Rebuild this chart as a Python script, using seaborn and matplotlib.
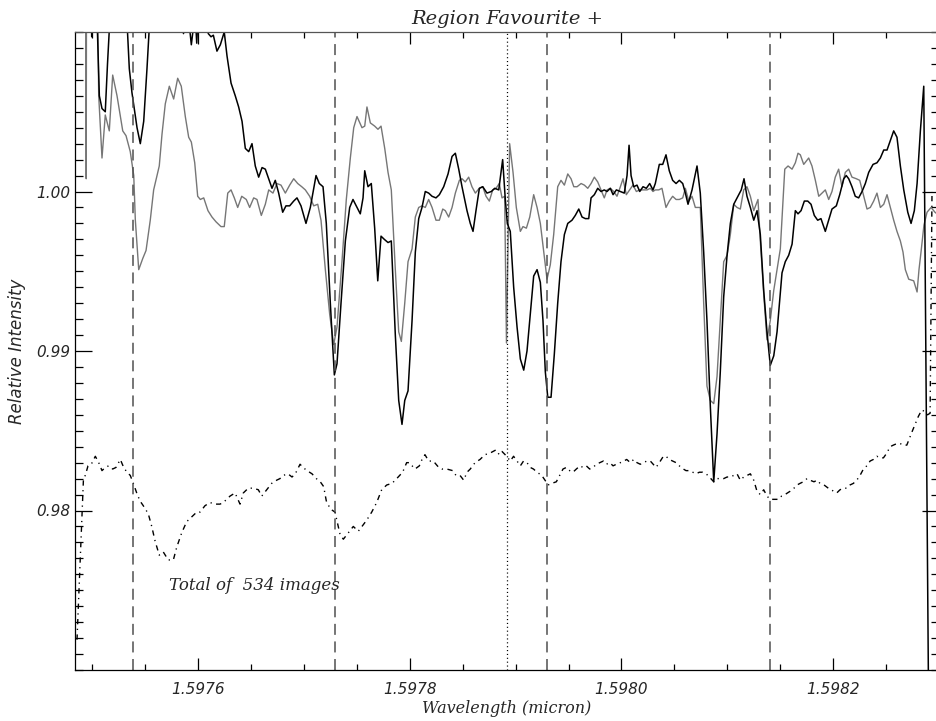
import matplotlib
matplotlib.use("Agg")
import matplotlib.pyplot as plt
from matplotlib.ticker import MultipleLocator, FixedLocator, FixedFormatter
import seaborn as sns

# ---------------- data ----------------
black_wave = [
    1.5974961, 1.5974996, 1.5975017, 1.5975041, 1.5975068, 1.5975093, 1.5975124, 1.5975145,
    1.5975169, 1.5975197, 1.5975310, 1.5975334, 1.5975351, 1.5975376, 1.5975424, 1.5975455,
    1.5975487, 1.5975518, 1.5975540, 1.5975565, 1.5975811, 1.5975839, 1.5975863, 1.5975887,
    1.5975915, 1.5975937, 1.5975953, 1.5975976, 1.5975988, 1.5976000, 1.5976066, 1.5976097,
    1.5976123, 1.5976145, 1.5976179, 1.5976211, 1.5976248, 1.5976274, 1.5976312, 1.5976352,
    1.5976384, 1.5976416, 1.5976447, 1.5976479, 1.5976510, 1.5976541, 1.5976573, 1.5976605,
    1.5976636, 1.5976668, 1.5976699, 1.5976730, 1.5976762, 1.5976800, 1.5976831, 1.5976866,
    1.5976904, 1.5976935, 1.5976973, 1.5977020, 1.5977061, 1.5977115, 1.5977146, 1.5977181,
    1.5977212, 1.5977250, 1.5977288, 1.5977313, 1.5977351, 1.5977392, 1.5977433, 1.5977464,
    1.5977502, 1.5977533, 1.5977559, 1.5977575, 1.5977606, 1.5977637, 1.5977669, 1.5977698,
    1.5977729, 1.5977760, 1.5977795, 1.5977826, 1.5977864, 1.5977896, 1.5977927, 1.5977953,
    1.5977984, 1.5978022, 1.5978053, 1.5978085, 1.5978116, 1.5978147, 1.5978179, 1.5978211,
    1.5978248, 1.5978280, 1.5978321, 1.5978362, 1.5978400, 1.5978431, 1.5978463, 1.5978494,
    1.5978541, 1.5978572, 1.5978598, 1.5978626, 1.5978658, 1.5978690, 1.5978730, 1.5978771,
    1.5978803, 1.5978841, 1.5978878, 1.5978903, 1.5978922, 1.5978950, 1.5978982, 1.5979014,
    1.5979045, 1.5979077, 1.5979108, 1.5979139, 1.5979171, 1.5979203, 1.5979234, 1.5979259,
    1.5979281, 1.5979304, 1.5979335, 1.5979366, 1.5979398, 1.5979429, 1.5979461, 1.5979493,
    1.5979533, 1.5979564, 1.5979597, 1.5979628, 1.5979659, 1.5979691, 1.5979713, 1.5979744,
    1.5979776, 1.5979807, 1.5979838, 1.5979864, 1.5979895, 1.5979921, 1.5979952, 1.5979990,
    1.5980027, 1.5980053, 1.5980072, 1.5980091, 1.5980116, 1.5980147, 1.5980173, 1.5980204,
    1.5980235, 1.5980267, 1.5980298, 1.5980320, 1.5980358, 1.5980390, 1.5980421, 1.5980452,
    1.5980484, 1.5980516, 1.5980547, 1.5980579, 1.5980604, 1.5980629, 1.5980667, 1.5980714,
    1.5980745, 1.5980777, 1.5980808, 1.5980840, 1.5980872, 1.5980903, 1.5980934, 1.5980966,
    1.5980998, 1.5981029, 1.5981061, 1.5981101, 1.5981132, 1.5981158, 1.5981186, 1.5981218,
    1.5981250, 1.5981281, 1.5981312, 1.5981344, 1.5981375, 1.5981406, 1.5981439, 1.5981470,
    1.5981501, 1.5981517, 1.5981548, 1.5981580, 1.5981612, 1.5981643, 1.5981668, 1.5981697,
    1.5981728, 1.5981760, 1.5981791, 1.5981822, 1.5981854, 1.5981885, 1.5981926, 1.5981958,
    1.5981989, 1.5982030, 1.5982062, 1.5982100, 1.5982124, 1.5982147, 1.5982178, 1.5982209,
    1.5982241, 1.5982273, 1.5982304, 1.5982336, 1.5982377, 1.5982414, 1.5982446, 1.5982478,
    1.5982509, 1.5982540, 1.5982572, 1.5982603, 1.5982635, 1.5982667, 1.5982705, 1.5982736,
    1.5982767, 1.5982793, 1.5982824, 1.5982856, 1.5982911,
]
black_flux = [
    1.0200, 1.0097, 1.0200, 1.0120, 1.0060, 1.0052, 1.0050, 1.0080,
    1.0110, 1.0140, 1.0140, 1.0100, 1.0077, 1.0062, 1.0040, 1.0030,
    1.0044, 1.0077, 1.0103, 1.0140, 1.0140, 1.0110, 1.0099, 1.0112,
    1.0106, 1.0092, 1.0101, 1.0108, 1.0093, 1.0110, 1.0110, 1.0099,
    1.0097, 1.0098, 1.0088, 1.0092, 1.0100, 1.0085, 1.0068, 1.0060,
    1.0053, 1.0044, 1.0027, 1.0025, 1.0030, 1.0016, 1.0009, 1.0015,
    1.0014, 1.0008, 1.0002, 1.0007, 0.9999, 0.9987, 0.9991, 0.9991,
    0.9994, 0.9996, 0.9991, 0.9980, 0.9990, 1.0010, 1.0005, 1.0003,
    0.9980, 0.9930, 0.9885, 0.9892, 0.9930, 0.9969, 0.9990, 0.9995,
    0.9990, 0.9986, 0.9996, 1.0013, 1.0003, 1.0005, 0.9977, 0.9944,
    0.9972, 0.9970, 0.9968, 0.9969, 0.9910, 0.9869, 0.9854, 0.9869,
    0.9875, 0.9919, 0.9962, 0.9983, 0.9990, 1.0000, 0.9999, 0.9997,
    0.9996, 0.9998, 1.0003, 1.0011, 1.0022, 1.0024, 1.0014, 1.0003,
    0.9988, 0.9980, 0.9975, 0.9988, 1.0002, 1.0003, 0.9999, 1.0000,
    1.0002, 1.0001, 1.0020, 0.9995, 0.9980, 0.9975, 0.9940, 0.9915,
    0.9895, 0.9888, 0.9900, 0.9923, 0.9947, 0.9951, 0.9943, 0.9919,
    0.9887, 0.9871, 0.9871, 0.9898, 0.9930, 0.9956, 0.9973, 0.9980,
    0.9982, 0.9985, 0.9989, 0.9984, 0.9983, 0.9983, 0.9996, 0.9998,
    1.0002, 1.0000, 1.0001, 1.0000, 1.0002, 0.9998, 1.0001, 1.0000,
    0.9999, 1.0010, 1.0029, 1.0010, 1.0003, 1.0004, 1.0000, 1.0003,
    1.0002, 1.0005, 1.0001, 1.0005, 1.0017, 1.0017, 1.0023, 1.0013,
    1.0007, 1.0005, 1.0007, 1.0005, 0.9999, 0.9992, 1.0001, 1.0016,
    0.9999, 0.9962, 0.9919, 0.9865, 0.9818, 0.9848, 0.9887, 0.9934,
    0.9960, 0.9980, 0.9992, 0.9997, 1.0001, 1.0008, 0.9997, 0.9990,
    0.9982, 0.9988, 0.9973, 0.9938, 0.9912, 0.9891, 0.9897, 0.9912,
    0.9936, 0.9949, 0.9956, 0.9960, 0.9967, 0.9988, 0.9986, 0.9988,
    0.9994, 0.9994, 0.9992, 0.9985, 0.9982, 0.9983, 0.9975, 0.9982,
    0.9989, 0.9991, 0.9998, 1.0008, 1.0010, 1.0008, 1.0003, 0.9997,
    0.9996, 1.0000, 1.0005, 1.0012, 1.0017, 1.0018, 1.0021, 1.0026,
    1.0026, 1.0032, 1.0038, 1.0034, 1.0016, 1.0001, 0.9987, 0.9980,
    0.9988, 1.0005, 1.0038, 1.0066, 0.9600,
]

gray_wave = [
    1.5974937, 1.5974944, 1.5974950, 1.5975036, 1.5975062, 1.5975093, 1.5975124, 1.5975162,
    1.5975194, 1.5975235, 1.5975289, 1.5975320, 1.5975360, 1.5975393, 1.5975408, 1.5975440,
    1.5975478, 1.5975509, 1.5975549, 1.5975581, 1.5975634, 1.5975660, 1.5975691, 1.5975729,
    1.5975770, 1.5975808, 1.5975842, 1.5975880, 1.5975912, 1.5975937, 1.5975969, 1.5975997,
    1.5976022, 1.5976054, 1.5976094, 1.5976132, 1.5976170, 1.5976217, 1.5976248, 1.5976281,
    1.5976312, 1.5976343, 1.5976375, 1.5976413, 1.5976456, 1.5976488, 1.5976526, 1.5976557,
    1.5976598, 1.5976636, 1.5976668, 1.5976708, 1.5976746, 1.5976784, 1.5976825, 1.5976866,
    1.5976904, 1.5976942, 1.5976980, 1.5977014, 1.5977055, 1.5977093, 1.5977131, 1.5977162,
    1.5977203, 1.5977244, 1.5977282, 1.5977313, 1.5977360, 1.5977401, 1.5977439, 1.5977471,
    1.5977502, 1.5977549, 1.5977575, 1.5977596, 1.5977628, 1.5977669, 1.5977700, 1.5977729,
    1.5977764, 1.5977795, 1.5977826, 1.5977864, 1.5977896, 1.5977921, 1.5977953, 1.5977984,
    1.5978022, 1.5978053, 1.5978085, 1.5978116, 1.5978147, 1.5978179, 1.5978211, 1.5978248,
    1.5978280, 1.5978312, 1.5978336, 1.5978368, 1.5978400, 1.5978431, 1.5978469, 1.5978494,
    1.5978525, 1.5978557, 1.5978588, 1.5978620, 1.5978657, 1.5978690, 1.5978721, 1.5978752,
    1.5978784, 1.5978815, 1.5978846, 1.5978872, 1.5978897, 1.5978914, 1.5978944, 1.5978976,
    1.5979007, 1.5979045, 1.5979070, 1.5979102, 1.5979134, 1.5979171, 1.5979203, 1.5979234,
    1.5979266, 1.5979297, 1.5979328, 1.5979360, 1.5979398, 1.5979429, 1.5979461, 1.5979493,
    1.5979524, 1.5979550, 1.5979581, 1.5979619, 1.5979650, 1.5979682, 1.5979713, 1.5979744,
    1.5979776, 1.5979807, 1.5979838, 1.5979864, 1.5979895, 1.5979927, 1.5979958, 1.5979990,
    1.5980015, 1.5980046, 1.5980078, 1.5980109, 1.5980141, 1.5980173, 1.5980210, 1.5980242,
    1.5980273, 1.5980298, 1.5980320, 1.5980352, 1.5980383, 1.5980421, 1.5980452, 1.5980484,
    1.5980516, 1.5980547, 1.5980579, 1.5980604, 1.5980636, 1.5980667, 1.5980698, 1.5980745,
    1.5980777, 1.5980808, 1.5980840, 1.5980872, 1.5980903, 1.5980934, 1.5980966, 1.5980998,
    1.5981029, 1.5981061, 1.5981092, 1.5981123, 1.5981155, 1.5981186, 1.5981218, 1.5981250,
    1.5981290, 1.5981312, 1.5981344, 1.5981375, 1.5981406, 1.5981439, 1.5981470, 1.5981501,
    1.5981543, 1.5981574, 1.5981612, 1.5981643, 1.5981668, 1.5981690, 1.5981722, 1.5981769,
    1.5981800, 1.5981832, 1.5981864, 1.5981895, 1.5981926, 1.5981958, 1.5981989, 1.5982020,
    1.5982052, 1.5982083, 1.5982115, 1.5982147, 1.5982178, 1.5982219, 1.5982251, 1.5982282,
    1.5982320, 1.5982351, 1.5982383, 1.5982414, 1.5982446, 1.5982478, 1.5982509, 1.5982540,
    1.5982572, 1.5982603, 1.5982635, 1.5982660, 1.5982682, 1.5982714, 1.5982761, 1.5982793,
    1.5982811, 1.5982830, 1.5982858, 1.5982887, 1.5982925, 1.5982962, 1.5983000,
]
gray_flux = [
    1.0300, 1.0008, 1.0300, 1.0200, 1.0060, 1.0021, 1.0048, 1.0038,
    1.0073, 1.0060, 1.0038, 1.0035, 1.0025, 1.0010, 0.9982, 0.9951,
    0.9958, 0.9963, 0.9982, 1.0001, 1.0016, 1.0036, 1.0055, 1.0066,
    1.0058, 1.0071, 1.0066, 1.0047, 1.0034, 1.0031, 1.0018, 0.9997,
    0.9995, 0.9996, 0.9988, 0.9984, 0.9981, 0.9978, 0.9978, 0.9999,
    1.0001, 0.9996, 0.9990, 0.9997, 0.9995, 0.9990, 0.9996, 0.9995,
    0.9985, 0.9992, 1.0001, 0.9999, 1.0005, 1.0004, 0.9999, 1.0004,
    1.0008, 1.0005, 1.0003, 1.0001, 0.9997, 0.9991, 0.9992, 0.9982,
    0.9951, 0.9923, 0.9904, 0.9915, 0.9956, 0.9995, 1.0021, 1.0040,
    1.0047, 1.0040, 1.0041, 1.0053, 1.0043, 1.0041, 1.0039, 1.0041,
    1.0027, 1.0012, 1.0001, 0.9951, 0.9912, 0.9906, 0.9930, 0.9956,
    0.9964, 0.9984, 0.9990, 0.9991, 0.9990, 0.9995, 0.9990, 0.9982,
    0.9982, 0.9989, 0.9988, 0.9984, 0.9990, 0.9999, 1.0007, 1.0008,
    1.0006, 1.0009, 1.0003, 0.9999, 1.0002, 1.0003, 0.9997, 0.9994,
    1.0001, 1.0002, 1.0005, 0.9996, 0.9997, 0.9905, 1.0030, 1.0012,
    0.9990, 0.9975, 0.9978, 0.9977, 0.9984, 0.9998, 0.9990, 0.9980,
    0.9962, 0.9945, 0.9954, 0.9973, 1.0003, 1.0007, 1.0004, 1.0011,
    1.0008, 1.0003, 1.0003, 1.0005, 1.0004, 1.0002, 1.0005, 1.0009,
    1.0006, 1.0001, 0.9996, 1.0001, 1.0002, 1.0000, 0.9997, 1.0003,
    1.0008, 0.9998, 1.0001, 1.0004, 1.0000, 1.0001, 1.0001, 1.0001,
    1.0002, 1.0000, 1.0001, 1.0001, 1.0002, 0.9990, 0.9994, 0.9997,
    0.9995, 0.9995, 0.9996, 1.0002, 0.9994, 0.9997, 0.9990, 0.9990,
    0.9930, 0.9878, 0.9869, 0.9867, 0.9884, 0.9919, 0.9956, 0.9960,
    0.9973, 0.9992, 0.9990, 0.9989, 1.0001, 1.0003, 0.9997, 0.9988,
    0.9995, 0.9969, 0.9936, 0.9907, 0.9919, 0.9938, 0.9951, 0.9964,
    1.0014, 1.0016, 1.0014, 1.0018, 1.0024, 1.0023, 1.0017, 1.0021,
    1.0016, 1.0007, 0.9997, 0.9999, 1.0001, 0.9995, 1.0000, 1.0009,
    1.0014, 1.0003, 1.0012, 1.0014, 1.0009, 1.0008, 1.0007, 0.9999,
    0.9989, 0.9990, 0.9994, 0.9999, 0.9990, 0.9992, 0.9998, 0.9990,
    0.9982, 0.9975, 0.9969, 0.9962, 0.9951, 0.9945, 0.9944, 0.9937,
    0.9951, 0.9962, 0.9979, 0.9987, 0.9990, 0.9987, 0.9985,
]

total_wave = [
    1.5974857, 1.5974918, 1.5974935, 1.5974961, 1.5974992, 1.5975030, 1.5975062, 1.5975093,
    1.5975124, 1.5975156, 1.5975194, 1.5975225, 1.5975266, 1.5975298, 1.5975329, 1.5975360,
    1.5975389, 1.5975421, 1.5975452, 1.5975483, 1.5975530, 1.5975563, 1.5975594, 1.5975634,
    1.5975672, 1.5975719, 1.5975767, 1.5975799, 1.5975846, 1.5975893, 1.5975940, 1.5975988,
    1.5976019, 1.5976066, 1.5976113, 1.5976161, 1.5976208, 1.5976239, 1.5976302, 1.5976350,
    1.5976397, 1.5976428, 1.5976475, 1.5976522, 1.5976570, 1.5976602, 1.5976649, 1.5976696,
    1.5976743, 1.5976774, 1.5976806, 1.5976850, 1.5976888, 1.5976919, 1.5976964, 1.5976992,
    1.5977030, 1.5977077, 1.5977118, 1.5977155, 1.5977187, 1.5977212, 1.5977250, 1.5977294,
    1.5977342, 1.5977373, 1.5977420, 1.5977467, 1.5977514, 1.5977549, 1.5977594, 1.5977641,
    1.5977688, 1.5977735, 1.5977783, 1.5977833, 1.5977877, 1.5977933, 1.5977971, 1.5977996,
    1.5978050, 1.5978091, 1.5978116, 1.5978144, 1.5978179, 1.5978223, 1.5978274, 1.5978305,
    1.5978350, 1.5978406, 1.5978437, 1.5978475, 1.5978510, 1.5978541, 1.5978572, 1.5978617,
    1.5978664, 1.5978711, 1.5978759, 1.5978815, 1.5978846, 1.5978872, 1.5978916, 1.5978950,
    1.5978981, 1.5979014, 1.5979045, 1.5979075, 1.5979108, 1.5979139, 1.5979169, 1.5979203,
    1.5979247, 1.5979278, 1.5979307, 1.5979342, 1.5979385, 1.5979417, 1.5979448, 1.5979480,
    1.5979511, 1.5979542, 1.5979574, 1.5979609, 1.5979637, 1.5979668, 1.5979700, 1.5979732,
    1.5979763, 1.5979795, 1.5979829, 1.5979857, 1.5979890, 1.5979921, 1.5979952, 1.5979990,
    1.5980022, 1.5980050, 1.5980084, 1.5980116, 1.5980147, 1.5980178, 1.5980210, 1.5980239,
    1.5980273, 1.5980327, 1.5980358, 1.5980396, 1.5980421, 1.5980452, 1.5980484, 1.5980516,
    1.5980547, 1.5980585, 1.5980610, 1.5980642, 1.5980674, 1.5980705, 1.5980736, 1.5980768,
    1.5980800, 1.5980831, 1.5980872, 1.5980903, 1.5980934, 1.5980966, 1.5980998, 1.5981029,
    1.5981061, 1.5981092, 1.5981123, 1.5981155, 1.5981186, 1.5981218, 1.5981250, 1.5981281,
    1.5981312, 1.5981344, 1.5981375, 1.5981406, 1.5981441, 1.5981482, 1.5981512, 1.5981545,
    1.5981592, 1.5981630, 1.5981659, 1.5981687, 1.5981718, 1.5981753, 1.5981782, 1.5981819,
    1.5981848, 1.5981876, 1.5981914, 1.5981954, 1.5981980, 1.5982008, 1.5982034, 1.5982065,
    1.5982096, 1.5982126, 1.5982159, 1.5982191, 1.5982223, 1.5982254, 1.5982286, 1.5982318,
    1.5982349, 1.5982380, 1.5982413, 1.5982444, 1.5982475, 1.5982507, 1.5982538, 1.5982569,
    1.5982604, 1.5982632, 1.5982664, 1.5982696, 1.5982743, 1.5982774, 1.5982805, 1.5982837,
    1.5982868, 1.5982892, 1.5982916, 1.5982934,
]
total_flux = [
    0.9719, 0.9820, 0.9822, 0.9828, 0.9829, 0.9834, 0.9830, 0.9825,
    0.9827, 0.9828, 0.9826, 0.9827, 0.9832, 0.9827, 0.9824, 0.9822,
    0.9817, 0.9811, 0.9806, 0.9803, 0.9798, 0.9790, 0.9781, 0.9772,
    0.9774, 0.9769, 0.9769, 0.9777, 0.9786, 0.9793, 0.9796, 0.9799,
    0.9799, 0.9803, 0.9805, 0.9804, 0.9804, 0.9805, 0.9809, 0.9811,
    0.9804, 0.9811, 0.9814, 0.9814, 0.9813, 0.9809, 0.9813, 0.9817,
    0.9819, 0.9820, 0.9822, 0.9823, 0.9821, 0.9823, 0.9829, 0.9827,
    0.9825, 0.9823, 0.9820, 0.9818, 0.9815, 0.9806, 0.9801, 0.9799,
    0.9785, 0.9782, 0.9786, 0.9790, 0.9787, 0.9790, 0.9794, 0.9799,
    0.9805, 0.9813, 0.9816, 0.9817, 0.9820, 0.9824, 0.9830, 0.9830,
    0.9826, 0.9828, 0.9832, 0.9835, 0.9831, 0.9831, 0.9827, 0.9826,
    0.9826, 0.9825, 0.9822, 0.9822, 0.9819, 0.9824, 0.9826, 0.9830,
    0.9832, 0.9835, 0.9836, 0.9838, 0.9835, 0.9837, 0.9834, 0.9831,
    0.9834, 0.9831, 0.9828, 0.9831, 0.9830, 0.9827, 0.9826, 0.9824,
    0.9822, 0.9819, 0.9816, 0.9817, 0.9818, 0.9822, 0.9826, 0.9827,
    0.9825, 0.9824, 0.9826, 0.9828, 0.9827, 0.9828, 0.9826, 0.9827,
    0.9829, 0.9830, 0.9831, 0.9829, 0.9830, 0.9828, 0.9829, 0.9830,
    0.9831, 0.9832, 0.9830, 0.9832, 0.9830, 0.9829, 0.9830, 0.9831,
    0.9831, 0.9827, 0.9830, 0.9834, 0.9834, 0.9832, 0.9831, 0.9830,
    0.9828, 0.9826, 0.9825, 0.9825, 0.9824, 0.9823, 0.9824, 0.9824,
    0.9823, 0.9821, 0.9818, 0.9820, 0.9820, 0.9820, 0.9821, 0.9821,
    0.9822, 0.9823, 0.9819, 0.9821, 0.9822, 0.9823, 0.9819, 0.9812,
    0.9810, 0.9813, 0.9809, 0.9807, 0.9807, 0.9807, 0.9809, 0.9810,
    0.9812, 0.9814, 0.9816, 0.9817, 0.9818, 0.9820, 0.9819, 0.9818,
    0.9819, 0.9817, 0.9816, 0.9814, 0.9813, 0.9812, 0.9811, 0.9813,
    0.9814, 0.9814, 0.9816, 0.9817, 0.9819, 0.9822, 0.9826, 0.9828,
    0.9831, 0.9832, 0.9834, 0.9833, 0.9833, 0.9836, 0.9840, 0.9841,
    0.9842, 0.9842, 0.9841, 0.9841, 0.9849, 0.9854, 0.9859, 0.9863,
    0.9862, 0.9860, 0.9861, 1.0000,
]

line_markers = [1.597539, 1.597729, 1.597930, 1.598140]   # dashed reference lines
center_marker = 1.597892                                  # dotted reference line

x_ticks = [1.5976, 1.5978, 1.5980, 1.5982]
x_tick_labels = ["1.5976", "1.5978", "1.5980", "1.5982"]
y_ticks = [0.98, 0.99, 1.00]
y_tick_labels = ["0.98", "0.99", "1.00"]

title_text = "Region Favourite +"
x_label = "Wavelength (micron)"
y_label = "Relative Intensity"
note_text = "Total of  534 images"
note_pos = (1.5975726, 0.9750)

# ---------------- figure ----------------
sns.set_style("ticks")
plt.rcParams["font.family"] = ["DejaVu Sans"]

fig = plt.figure(figsize=(9.37, 7.21), dpi=100)
ax = fig.add_axes([75 / 937, 51 / 721, 864 / 937, 638 / 721])

sns.lineplot(x=gray_wave, y=gray_flux, ax=ax, color="#767676", lw=1.0,
             sort=False, estimator=None)
sns.lineplot(x=black_wave, y=black_flux, ax=ax, color="black", lw=1.1,
             sort=False, estimator=None)
sns.lineplot(x=total_wave, y=total_flux, ax=ax, color="black", lw=1.0,
             sort=False, estimator=None, linestyle=(0, (3.8, 3.2, 0.9, 3.2)))

for xm in line_markers:
    ax.axvline(xm, color="#505050", lw=1.1, linestyle=(0, (7.2, 4.3)))
ax.axvline(center_marker, color="black", lw=0.9, linestyle=(0, (0.9, 2.2)))

ax.set_xlim(1.5974838, 1.5983000)
ax.set_ylim(0.970, 1.010)

ax.xaxis.set_major_locator(FixedLocator(x_ticks))
ax.xaxis.set_major_formatter(FixedFormatter(x_tick_labels))
ax.xaxis.set_minor_locator(MultipleLocator(0.00005))
ax.yaxis.set_major_locator(FixedLocator(y_ticks))
ax.yaxis.set_major_formatter(FixedFormatter(y_tick_labels))
ax.yaxis.set_minor_locator(MultipleLocator(0.001))

ax.tick_params(which="both", direction="in", top=True, right=True,
               color="black", width=0.9)
ax.tick_params(axis="x", which="major", length=8.6, pad=9)
ax.tick_params(axis="x", which="minor", length=4.3)
ax.tick_params(axis="y", which="major", length=12.2, pad=3.5)
ax.tick_params(axis="y", which="minor", length=5.8)

for lab in ax.get_xticklabels() + ax.get_yticklabels():
    lab.set_fontstyle("italic")
    lab.set_fontsize(11)
    lab.set_family("DejaVu Sans")

for name, sp in ax.spines.items():
    sp.set_color("#555555" if name == "top" else "black")
    sp.set_linewidth(0.9)
    sp.set_visible(True)

ax.set_title(title_text, family="DejaVu Serif", style="italic", fontsize=14, pad=6)
ax.set_xlabel(x_label, family="DejaVu Serif", style="italic", fontsize=11.5, labelpad=2)
ax.set_ylabel(y_label, family="DejaVu Sans", style="italic", fontsize=12, labelpad=7)

ax.text(note_pos[0], note_pos[1], note_text, family="DejaVu Serif", style="italic",
        fontsize=12, ha="left", va="baseline")

fig.savefig("out.png", dpi=100)
